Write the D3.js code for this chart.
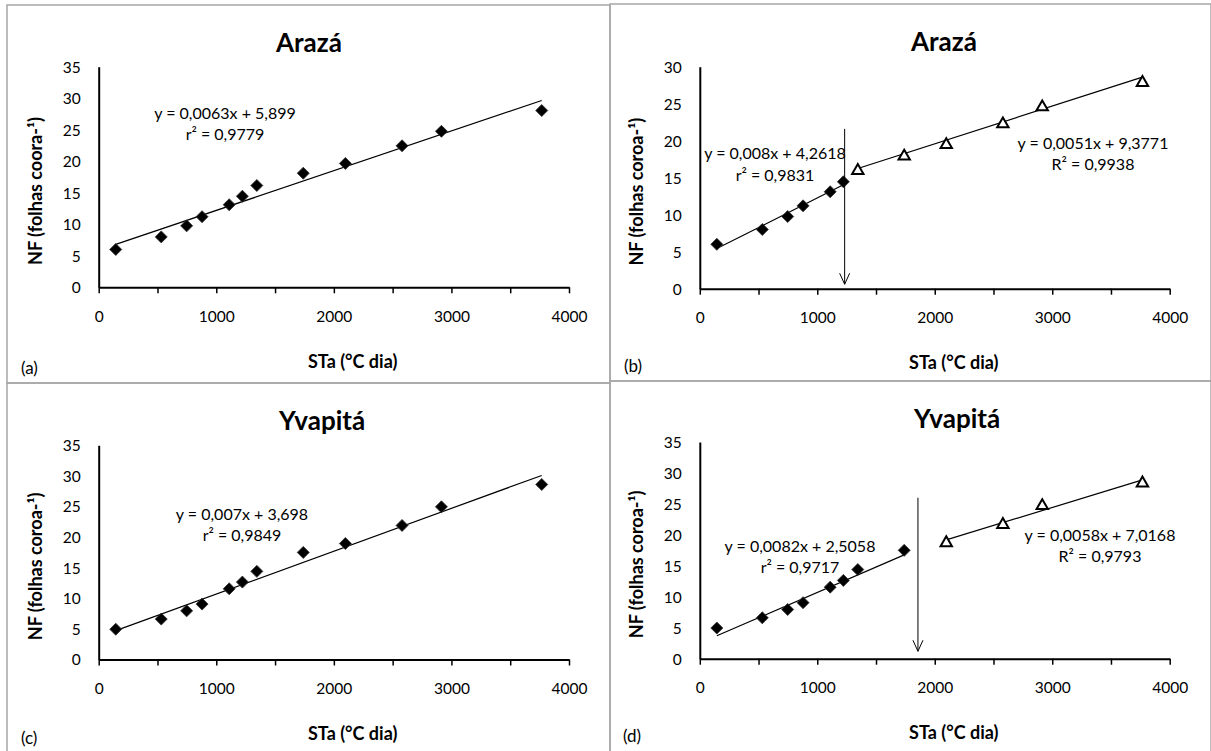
<!DOCTYPE html>
<html>
<head>
<meta charset="utf-8">
<script src="https://cdn.jsdelivr.net/npm/d3@7"></script>
<style>
  body { margin: 0; background: #fff; }
  svg text { font-family: Lato, "Open Sans", sans-serif; fill: #000; }
</style>
</head>
<body>
<main></main>
<script>
// STa (°C dia) at each sampling date, same for both cultivars
const staX = [145, 532, 748, 879, 1110, 1222, 1345, 1740, 2098, 2580, 2915, 3768];

// leaf number per crown
const nfAraza   = [6.0, 8.0, 9.75, 11.2, 13.1, 14.45, 16.15, 18.1, 19.65, 22.45, 24.75, 28.05];
const nfYvapita = [4.95, 6.6, 7.95, 9.05, 11.55, 12.65, 14.4, 17.5, 18.95, 21.9, 24.95, 28.6];

const xTicks = [0, 500, 1000, 1500, 2000, 2500, 3000, 3500, 4000];
const xLabelTicks = [0, 1000, 2000, 3000, 4000];
const yTicks35 = [0, 5, 10, 15, 20, 25, 30, 35];
const yTicks30 = [0, 5, 10, 15, 20, 25, 30];

// [slope, intercept] as printed on the chart
const fitA = [[0.0063, 5.899]];
const fitB = [[0.008, 4.2618], [0.0051, 9.3771]];
const fitC = [[0.007, 3.698]];
const fitD = [[0.0082, 2.5058], [0.0058, 7.0168]];

const eqA = [["y = 0,0063x + 5,899", "r² = 0,9779"]];
const eqB = [["y = 0,008x + 4,2618", "r² = 0,9831"], ["y = 0,0051x + 9,3771", "R² = 0,9938"]];
const eqC = [["y = 0,007x + 3,698", "r² = 0,9849"]];
const eqD = [["y = 0,0082x + 2,5058", "r² = 0,9717"], ["y = 0,0058x + 7,0168", "R² = 0,9793"]];

// break point arrows [x, top, tip] in data units
const arrowB = [1233, 21.6, 0.6];
const arrowD = [1857, 26, 1.2];

const W = 1211, H = 751;

const panels = [
	{tag: "(a)", box: [7, 5, 603, 378], plot: {l: 98.7, r: 569, t: 66.7, b: 287.3}, yMax: 35, yTicks: yTicks35,
	 title: "Arazá", titleX: 309, yTitle: "NF (folhas coora-¹)", nf: nfAraza, split: null,
	 fits: fitA, eqs: eqA, eqPos: [[225, 113]], arrow: null, tagX: 21, tagY: 368},
	{tag: "(b)", box: [610, 4, 601, 377], plot: {l: 699.8, r: 1169.7, t: 66.7, b: 288.7}, yMax: 30, yTicks: yTicks30,
	 title: "Arazá", titleX: 944, yTitle: "NF (folhas coroa-¹)", nf: nfAraza, split: 6,
	 fits: fitB, eqs: eqB, eqPos: [[775, 153.5], [1093, 143.3]], arrow: arrowB, tagX: 624, tagY: 366},
	{tag: "(c)", box: [7, 383, 603, 380], plot: {l: 98.7, r: 569, t: 445.3, b: 659.5}, yMax: 35, yTicks: yTicks35,
	 title: "Yvapitá", titleX: 322, yTitle: "NF (folhas coroa-¹)", nf: nfYvapita, split: null,
	 fits: fitC, eqs: eqC, eqPos: [[242, 514]], arrow: null, tagX: 21, tagY: 738},
	{tag: "(d)", box: [610, 381, 601, 380], plot: {l: 699.8, r: 1169.7, t: 442, b: 658.7}, yMax: 35, yTicks: yTicks35,
	 title: "Yvapitá", titleX: 957, yTitle: "NF (folhas coroa-¹)", nf: nfYvapita, split: 8,
	 fits: fitD, eqs: eqD, eqPos: [[800, 546], [1100, 535.3]], arrow: arrowD, tagX: 623, tagY: 736}
];

const svg = d3.select("main").append("svg")
	.attr("width", W)
	.attr("height", H)
	.attr("viewBox", `0 0 ${W} ${H}`);

let diamond = d3.symbol().type(d3.symbolSquare).size(72);
let triangle = d3.symbol().type(d3.symbolTriangle).size(56);

let drawPanel = p => {
	const g = svg.append("g");

	// panel frame
	g.append("rect")
		.attr("x", p.box[0]).attr("y", p.box[1])
		.attr("width", p.box[2]).attr("height", p.box[3])
		.attr("fill", "none")
		.attr("stroke", "#a6a6a6")
		.attr("stroke-width", 1.5);

	const x = d3.scaleLinear().domain([0, 4000]).range([p.plot.l, p.plot.r]);
	const y = d3.scaleLinear().domain([0, p.yMax]).range([p.plot.b, p.plot.t]);

	// y axis: no ticks, labels only
	g.append("g")
		.attr("transform", `translate(${p.plot.l},0)`)
		.call(d3.axisLeft(y).tickValues(p.yTicks).tickSize(0).tickPadding(18))
		.call(a => a.select(".domain").attr("stroke", "#000").attr("stroke-width", 2))
		.call(a => a.selectAll("text")
			.attr("font-size", 15.5)
			.attr("dy", "0.35em")
			.style("font-family", "Lato, sans-serif"));

	// x axis: ticks every 500, labels every 1000
	g.append("g")
		.attr("transform", `translate(0,${p.plot.b})`)
		.call(d3.axisBottom(x).tickValues(xTicks).tickSize(6).tickSizeOuter(0)
			.tickFormat(d => xLabelTicks.includes(d) ? d : ""))
		.call(a => a.select(".domain").attr("stroke", "#000").attr("stroke-width", 2))
		.call(a => a.selectAll(".tick line").attr("stroke", "#000").attr("stroke-width", 1.5))
		.call(a => a.selectAll("text")
			.attr("y", 29)
			.attr("dy", "0.35em")
			.attr("font-size", 15.5)
			.style("font-family", "Lato, sans-serif"));

	// title
	g.append("text")
		.attr("x", p.titleX)
		.attr("y", p.box[1] + 38)
		.attr("dy", "0.35em")
		.attr("text-anchor", "middle")
		.attr("font-size", 26)
		.attr("font-weight", "bold")
		.text(p.title);

	// axis titles
	g.append("text")
		.attr("x", p.plot.l + 254)
		.attr("y", p.plot.b + 74)
		.attr("dy", "0.35em")
		.attr("text-anchor", "middle")
		.attr("font-size", 18)
		.attr("font-weight", "bold")
		.text("STa (°C dia)");

	g.append("text")
		.attr("transform", `translate(${p.plot.l - 63},${(p.plot.t + p.plot.b) / 2 + 14}) rotate(-90)`)
		.attr("dy", "0.35em")
		.attr("text-anchor", "middle")
		.attr("font-size", 18)
		.attr("font-weight", "bold")
		.text(p.yTitle);

	// panel letter
	g.append("text")
		.attr("x", p.tagX)
		.attr("y", p.tagY)
		.attr("dy", "0.35em")
		.attr("font-size", 17)
		.text(p.tag);

	// split data into segments (before / after break)
	const pts = staX.map((sx, i) => ({x: sx, y: p.nf[i]}));
	const segs = p.split ? [pts.slice(0, p.split), pts.slice(p.split)] : [pts];

	segs.forEach((seg, si) => {
		const [m, b] = p.fits[si];
		const ext = d3.extent(seg, d => d.x);
		g.append("line")
			.attr("x1", x(ext[0])).attr("y1", y(m * ext[0] + b))
			.attr("x2", x(ext[1])).attr("y2", y(m * ext[1] + b))
			.attr("stroke", "#000")
			.attr("stroke-width", 1.2);

		const isTri = p.split && si === 1;
		g.append("g")
			.selectAll("path")
			.data(seg)
			.join("path")
				.attr("d", isTri ? triangle : diamond)
				.attr("transform", d => isTri
					? `translate(${x(d.x)},${y(d.y) + 1.5})`
					: `translate(${x(d.x)},${y(d.y)}) rotate(45)`)
				.attr("fill", isTri ? "#fff" : "#000")
				.attr("stroke", isTri ? "#000" : "#333")
				.attr("stroke-width", isTri ? 2 : 0.8);

		const lines = p.eqs[si];
		const [ex, ey] = p.eqPos[si];
		lines.forEach((t, li) => {
			g.append("text")
				.attr("x", ex)
				.attr("y", ey + li * 21.5)
				.attr("dy", "0.35em")
				.attr("text-anchor", "middle")
				.attr("font-size", 16)
				.text(t);
		});
	});

	if (p.arrow) {
		const [ax, top, tip] = p.arrow;
		const px = x(ax);
		g.append("line")
			.attr("x1", px).attr("y1", y(top))
			.attr("x2", px).attr("y2", y(tip))
			.attr("stroke", "#000")
			.attr("stroke-width", 1);
		g.append("path")
			.attr("d", `M${px - 5},${y(tip) - 11}L${px},${y(tip)}L${px + 5},${y(tip) - 11}`)
			.attr("fill", "none")
			.attr("stroke", "#000")
			.attr("stroke-width", 1);
	}
};

panels.forEach(drawPanel);
</script>
</body>
</html>
